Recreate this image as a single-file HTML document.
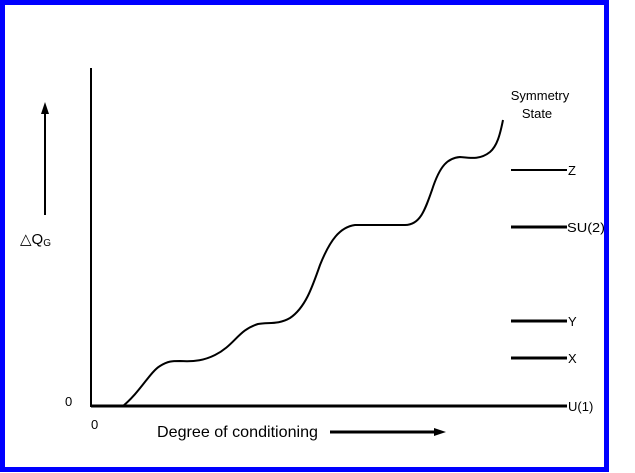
<!DOCTYPE html>
<html><head><style>
html,body{margin:0;padding:0;background:#fff;}
svg{display:block;font-family:"Liberation Sans",sans-serif;}
</style></head><body>
<svg width="635" height="473" viewBox="0 0 635 473">
<rect x="0" y="0" width="635" height="473" fill="#fff"/>
<rect x="2.5" y="2.5" width="604" height="467" fill="none" stroke="#0000ff" stroke-width="5"/>
<line x1="91" y1="68" x2="91" y2="407" stroke="#000" stroke-width="2"/>
<line x1="91" y1="406" x2="567" y2="406" stroke="#000" stroke-width="3"/>
<path d="M123,406 C140,392 150,372 160,366 C168,361 172,361 180,361 C195,362 205,360 215,355 C235,345 238,330 258,324 C268,322 278,325 290,318 C305,308 312,288 320,265 C330,240 340,227 355,225 L405,225 C420,225 425,210 432,190 C440,165 448,158 460,157 C470,158 480,160 490,152 C497,146 500,135 503,120" fill="none" stroke="#000" stroke-width="2"/>
<line x1="511" y1="170" x2="567" y2="170" stroke="#000" stroke-width="2"/>
<line x1="511" y1="227" x2="567" y2="227" stroke="#000" stroke-width="3"/>
<line x1="511" y1="321" x2="567" y2="321" stroke="#000" stroke-width="3"/>
<line x1="511" y1="358" x2="567" y2="358" stroke="#000" stroke-width="3"/>
<g font-size="13" fill="#000">
<text x="568" y="175">Z</text>
<text x="567" y="232" textLength="38" lengthAdjust="spacingAndGlyphs">SU(2)</text>
<text x="568" y="326">Y</text>
<text x="568" y="363">X</text>
<text x="568" y="411">U(1)</text>
<text x="540" y="100" text-anchor="middle" font-size="13">Symmetry</text>
<text x="537" y="118" text-anchor="middle" font-size="13">State</text>
<text x="65" y="406">0</text>
<text x="91" y="429">0</text>
<text x="157" y="437" font-size="16" textLength="161" lengthAdjust="spacingAndGlyphs">Degree of conditioning</text>
<text x="20" y="244" font-size="15">△Q<tspan font-size="10" dy="2">G</tspan></text>
</g>
<line x1="45" y1="215" x2="45" y2="112" stroke="#000" stroke-width="2"/>
<polygon points="45,102 41,114 49,114" fill="#000"/>
<line x1="330" y1="432" x2="435" y2="432" stroke="#000" stroke-width="3"/>
<polygon points="446,432 434,428 434,436" fill="#000"/>
</svg>
</body></html>
